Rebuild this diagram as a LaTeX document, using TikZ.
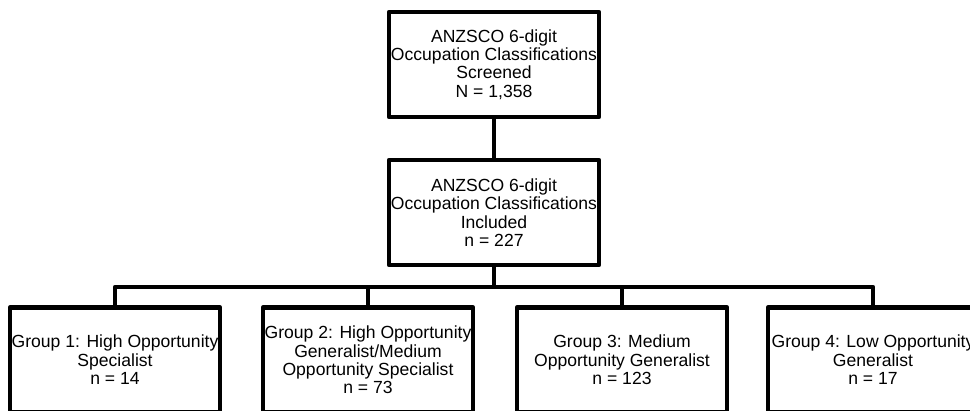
\documentclass[tikz,border=0pt]{standalone}
\usepackage{fontspec}
\setmainfont{Liberation Sans}
\usetikzlibrary{positioning}
\tikzset{
 box/.style={draw, line width=2.6pt, line join=round, minimum width=4.2cm, minimum height=2.1cm, inner sep=0pt, align=center, font=\fontsize{10}{10.5}\selectfont},
 link/.style={line width=2.6pt, line join=round}
}
\begin{document}
\begin{tikzpicture}[x=0.02cm, y=-0.02cm]
 \clip (0,0) rectangle (970,410);
 \useasboundingbox (0,0) rectangle (970,410);
 \node[box] (screened) at (494,64.5) {ANZSCO 6-digit\\Occupation Classifications\\Screened\\N = 1,358};
 \node[box] (included) at (494,212.5) {ANZSCO 6-digit\\Occupation Classifications\\Included\\n = 227};
 \node[box] (grp1) at (115,360) {Group 1: High Opportunity\\Specialist\\n = 14};
 \node[box] (grp2) at (368,360) {Group 2: High Opportunity\\Generalist/Medium\\Opportunity Specialist\\n = 73};
 \node[box] (grp3) at (622,360) {Group 3: Medium\\Opportunity Generalist\\n = 123};
 \node[box] (grp4) at (873,360) {Group 4: Low Opportunity\\Generalist\\n = 17};
 \coordinate (bus) at (494,287);
 \draw[link] (screened) -- (included);
 \draw[link] (included) -- (bus);
 \draw[link] (grp1.north) |- (bus) -| (grp4.north);
 \draw[link] (grp2.north) -- (grp2.north |- bus);
 \draw[link] (grp3.north) -- (grp3.north |- bus);
\end{tikzpicture}
\end{document}
